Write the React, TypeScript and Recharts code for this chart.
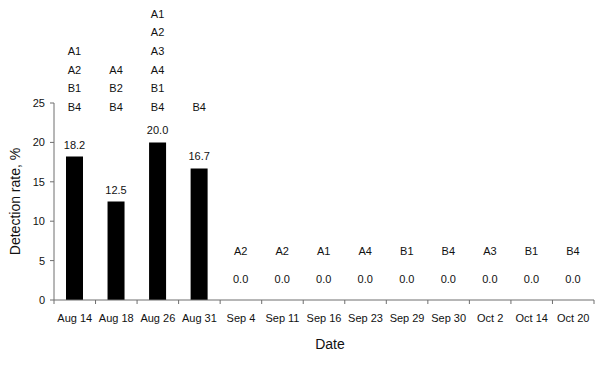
import { BarChart, Bar, XAxis, YAxis, LabelList } from "recharts";

const dates = ["Aug 14", "Aug 18", "Aug 26", "Aug 31", "Sep 4", "Sep 11", "Sep 16", "Sep 23", "Sep 29", "Sep 30", "Oct 2", "Oct 14", "Oct 20"];
const rates = [18.2, 12.5, 20.0, 16.7, 0, 0, 0, 0, 0, 0, 0, 0, 0];
const strains = [
  ["A1", "A2", "B1", "B4"],
  ["A4", "B2", "B4"],
  ["A1", "A2", "A3", "A4", "B1", "B4"],
  ["B4"],
  ["A2"],
  ["A2"],
  ["A1"],
  ["A4"],
  ["B1"],
  ["B4"],
  ["A3"],
  ["B1"],
  ["B4"],
];
const yTicks = [0, 5, 10, 15, 20, 25];

const data = dates.map((d, i) => ({ date: d, rate: rates[i], strains: strains[i] }));

const W = 600;
const H = 365;
const margin = { top: 103, right: 6, bottom: 0, left: 0 };
const Y_AXIS_W = 54;
const X_AXIS_H = 65;
const BAND = (W - margin.left - margin.right - Y_AXIS_W) / dates.length;
const FONT = "'Liberation Sans', Arial, sans-serif";
const AXIS_COLOR = "#6e6e6e";
const LINE_GAP = 18.7;

const XTick = ({ x, y, payload, index }: any) => {
  const half = BAND / 2;
  return (
    <g>
      <line x1={x - half} x2={x - half} y1={y} y2={y + 4} stroke={AXIS_COLOR} />
      {index === dates.length - 1 && (
        <line x1={x + half} x2={x + half} y1={y} y2={y + 4} stroke={AXIS_COLOR} />
      )}
      <text x={x} y={y + 18} textAnchor="middle" dominantBaseline="central" fontSize={11} fill="#111" fontFamily={FONT}>
        {payload.value}
      </text>
    </g>
  );
};

const ValueLabel = ({ x, y, width, value }: any) => {
  const cy = value > 0 ? y - 12 : y - 21;
  return (
    <text x={x + width / 2} y={cy} textAnchor="middle" dominantBaseline="central" fontSize={11} fill="#111" fontFamily={FONT}>
      {Number(value).toFixed(1)}
    </text>
  );
};

const StrainLabel = ({ x, y, width, index }: any) => {
  const list = strains[index] || [];
  const bottom = rates[index] > 0 ? margin.top + 4 : y - 49;
  return (
    <g>
      {list.map((s, k) => (
        <text
          key={k}
          x={x + width / 2}
          y={bottom - (list.length - 1 - k) * LINE_GAP}
          textAnchor="middle"
          dominantBaseline="central"
          fontSize={11}
          fill="#111"
          fontFamily={FONT}
        >
          {s}
        </text>
      ))}
    </g>
  );
};

export default function App() {
  return (
    <div style={{ position: "absolute", left: 0, top: 0, width: W, height: H, background: "#fff", fontFamily: FONT }}>
      <BarChart width={W} height={H} data={data} margin={margin}>
        <XAxis
          dataKey="date"
          height={X_AXIS_H}
          stroke={AXIS_COLOR}
          tickLine={false}
          tickSize={0}
          tickMargin={0}
          interval={0}
          tick={<XTick />}
          label={{ value: "Date", position: "insideBottom", offset: 16, dx: 6, fontSize: 14, fill: "#111", fontFamily: FONT }}
        />
        <YAxis
          width={Y_AXIS_W}
          domain={[0, 25]}
          ticks={yTicks}
          stroke={AXIS_COLOR}
          tickSize={4}
          tickMargin={5}
          tick={{ fontSize: 11, fill: "#111", fontFamily: FONT }}
          label={{ value: "Detection rate, %", angle: -90, position: "insideLeft", offset: 15, fontSize: 14, fill: "#111", fontFamily: FONT, style: { textAnchor: "middle" } }}
        />
        <Bar dataKey="rate" fill="#000" barSize={17} minPointSize={0.01} isAnimationActive={false}>
          <LabelList dataKey="rate" content={<ValueLabel />} />
          <LabelList dataKey="date" content={<StrainLabel />} />
        </Bar>
      </BarChart>
    </div>
  );
}
